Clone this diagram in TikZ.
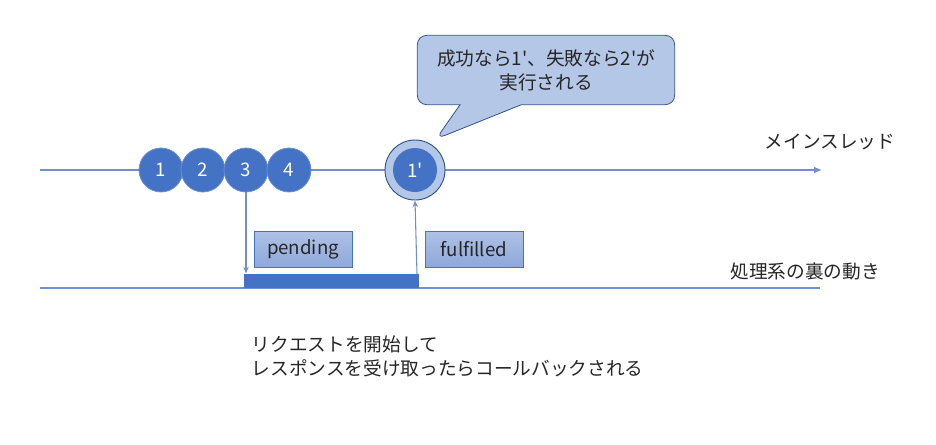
\documentclass[tikz,border=0pt]{standalone}
\usepackage{fontspec}
\setmainfont{Noto Sans CJK JP}[Ligatures=TeXOff]
\usetikzlibrary{arrows.meta, positioning, shapes.callouts}

\definecolor{darkblue}{HTML}{4472C4}
\definecolor{edgeblue}{HTML}{2F528F}
\definecolor{lineblue}{HTML}{6F8FCF}
\definecolor{paleblue}{HTML}{B4C7E7}
\definecolor{boxtop}{HTML}{AFC2E6}
\definecolor{boxbot}{HTML}{8EA8DA}

\tikzset{
  ball/.style={circle, fill=darkblue, draw=lineblue, line width=0.6pt, minimum size=33pt, inner sep=0pt, text=white},
  statebox/.style={rectangle, draw=darkblue, line width=0.5pt, top color=boxtop, bottom color=boxbot, minimum width=73.5pt, minimum height=27pt, inner sep=0pt, text=black!85},
  thread/.style={draw=lineblue, line width=0.8pt},
  flow/.style={draw=lineblue, line width=0.8pt, -{Stealth[length=5pt, width=4pt]}}
}

\begin{document}
\begin{tikzpicture}[x=0.75pt, y=-0.75pt, every node/.style={align=center, font=\fontsize{14pt}{18pt}\selectfont, text=black!85}]
				\useasboundingbox (0,0) rectangle (936,444);
				% Threads
				\coordinate (mainstart) at (40,170);
				\coordinate (mainend) at (822,170);
				\coordinate (backstart) at (40,288);
				\coordinate (backend) at (820,288);
				\draw[flow, -{Latex[length=6pt, width=5pt]}, draw=lineblue] (mainstart) -- (mainend);
				\draw[thread] (backstart) -- (backend);
				\node (mainlabel) at (830,142) {メインスレッド};
				\node (backlabel) at (805,271) {処理系の裏の動き};
				
				% Tasks
				\foreach \i/\x in {1/161, 2/203, 3/246, 4/289} {
					\node (task\i) [ball] at (\x,170) {\i};
				}
				\node (done) [circle, fill=paleblue, draw=edgeblue, line width=0.7pt, minimum size=45pt, inner sep=0pt] at (415,170) {};
				\node (doneball) [circle, fill=darkblue, minimum size=33pt, inner sep=0pt, text=white] at (done) {1'};
				
				% Pending request
				\node (bar) [rectangle, fill=darkblue, minimum width=131pt, minimum height=10.5pt, inner sep=0pt, anchor=south west] at (244,288) {};
				\node (pending) [statebox] at (303,249) {pending};
				\node (fulfilled) [statebox] at (474,249) {fulfilled};
				\coordinate (barend) at (417,274);
				\draw[flow] (task3) -- (task3 |- bar.north);
				\draw[flow] (barend) -- (done.south);
				
				% Notes
				\node (note) [rectangle callout, fill=paleblue, draw=edgeblue, line width=0.6pt, rounded corners=7pt, minimum width=193pt, minimum height=52pt, callout absolute pointer={(436,139)}, callout pointer width=46pt] at (546,70) {成功なら1'、失敗なら2'が\\実行される};
				\node (request) [align=left, anchor=north west] at (247,331) {リクエストを開始して\\レスポンスを受け取ったらコールバックされる};
			\end{tikzpicture}
\end{document}
